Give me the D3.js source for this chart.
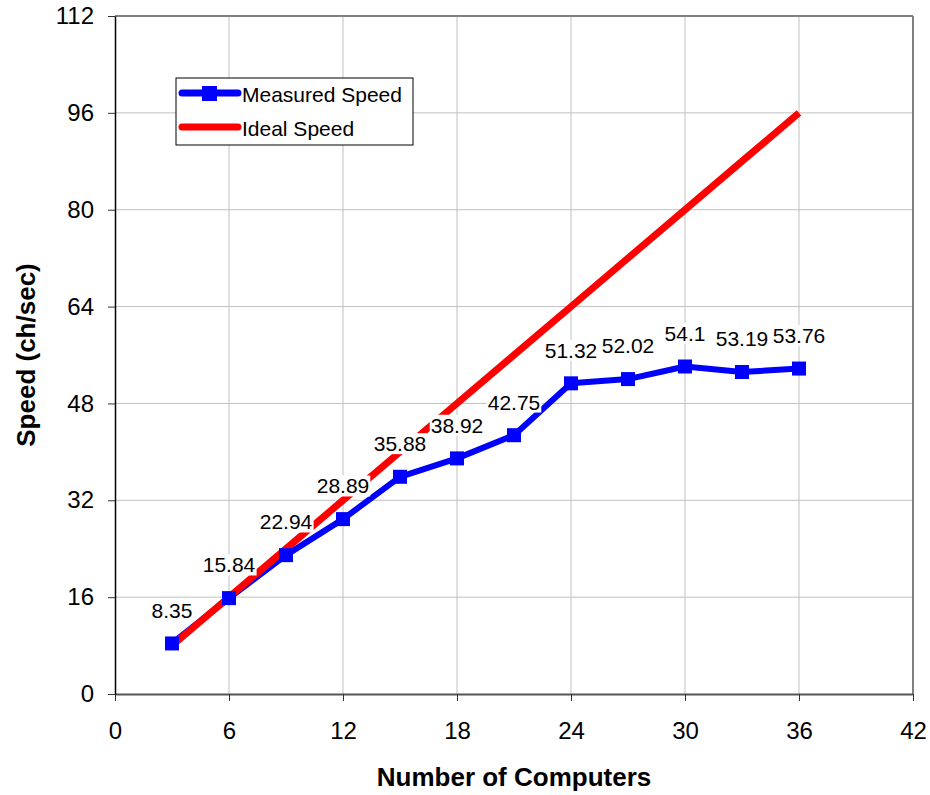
<!DOCTYPE html>
<html>
<head>
<meta charset="utf-8">
<script src="https://cdn.jsdelivr.net/npm/d3@7"></script>
<style>
  html, body { margin: 0; padding: 0; background: #fff; }
  svg { display: block; font-family: "Liberation Sans", Arial, sans-serif; }
</style>
</head>
<body>
<div id="chart"></div>
<script>
const computers = [3, 6, 9, 12, 15, 18, 21, 24, 27, 30, 33, 36];
const measuredSpeed = [8.35, 15.84, 22.94, 28.89, 35.88, 38.92, 42.75, 51.32, 52.02, 54.1, 53.19, 53.76];
const idealSpeed = [8, 16, 24, 32, 40, 48, 56, 64, 72, 80, 88, 96];
const xTicks = [0, 6, 12, 18, 24, 30, 36, 42];
const yTicks = [0, 16, 32, 48, 64, 80, 96, 112];
const seriesNames = ["Measured Speed", "Ideal Speed"];

const width = 930;
const height = 795;
const margin = { top: 16, right: 17, bottom: 101, left: 115 };

const svg = d3.select("#chart").append("svg")
  .attr("width", width)
  .attr("height", height);

const x = d3.scaleLinear().domain([0, 42]).range([margin.left, width - margin.right]);
const y = d3.scaleLinear().domain([0, 112]).range([height - margin.bottom, margin.top]);

// grid
svg.append("g")
  .selectAll("line")
  .data(xTicks.slice(1, -1))
  .join("line")
  .attr("x1", d => x(d)).attr("x2", d => x(d))
  .attr("y1", y(0)).attr("y2", y(112))
  .style("stroke", "#c0c0c0").attr("stroke-width", 1);
svg.append("g")
  .selectAll("line")
  .data(yTicks.slice(1, -1))
  .join("line")
  .attr("x1", x(0)).attr("x2", x(42))
  .attr("y1", d => y(d)).attr("y2", d => y(d))
  .style("stroke", "#c0c0c0").attr("stroke-width", 1);

// frame
svg.append("line").attr("x1", x(0)).attr("x2", x(42)).attr("y1", y(112)).attr("y2", y(112))
  .style("stroke", "#808080").attr("stroke-width", 2);
svg.append("line").attr("x1", x(42)).attr("x2", x(42)).attr("y1", y(0)).attr("y2", y(112))
  .style("stroke", "#808080").attr("stroke-width", 2);

// axes
const xAxis = svg.append("g")
  .attr("transform", `translate(0,${y(0)})`)
  .call(d3.axisBottom(x).tickValues(xTicks).tickSize(7).tickSizeOuter(0).tickPadding(21).tickFormat(d3.format("d")));
xAxis.select(".domain").style("stroke", "#555").attr("stroke-width", 2);
xAxis.selectAll(".tick line").style("stroke", "#333");
xAxis.selectAll("text").attr("font-size", "24px").style("fill", "#000");

const yAxis = svg.append("g")
  .attr("transform", `translate(${x(0)},0)`)
  .call(d3.axisLeft(y).tickValues(yTicks).tickSize(7).tickSizeOuter(0).tickPadding(14).tickFormat(d3.format("d")));
yAxis.select(".domain").style("stroke", "#000").attr("stroke-width", 1.5);
yAxis.selectAll(".tick line").style("stroke", "#333");
yAxis.selectAll("text").attr("font-size", "24px").style("fill", "#000");

// axis titles
svg.append("text")
  .attr("x", (x(0) + x(42)) / 2)
  .attr("y", 786)
  .attr("text-anchor", "middle")
  .attr("font-size", "26px")
  .attr("font-weight", "700")
  .text("Number of Computers");
svg.append("text")
  .attr("transform", `translate(35,${(y(0) + y(112)) / 2}) rotate(-90)`)
  .attr("text-anchor", "middle")
  .attr("font-size", "26px")
  .attr("font-weight", "700")
  .text("Speed (ch/sec)");

const line = d3.line().x(d => x(d[0])).y(d => y(d[1]));
const measured = computers.map((c, i) => [c, measuredSpeed[i]]);
const ideal = computers.map((c, i) => [c, idealSpeed[i]]);

svg.append("path").datum(measured).attr("d", line)
  .attr("fill", "none").style("stroke", "#0000ff").attr("stroke-width", 6).attr("stroke-linejoin", "round");
svg.append("path").datum(ideal).attr("d", line)
  .attr("fill", "none").style("stroke", "#ff0000").attr("stroke-width", 7).attr("stroke-linejoin", "round");

svg.append("g").selectAll("rect")
  .data(measured)
  .join("rect")
  .attr("x", d => x(d[0]) - 7)
  .attr("y", d => y(d[1]) - 7)
  .attr("width", 14).attr("height", 14)
  .style("fill", "#0000ff");

// data labels, white box behind
const labels = svg.append("g").selectAll("g")
  .data(measured)
  .join("g")
  .attr("transform", d => `translate(${x(d[0])},${y(d[1]) - 33})`);
labels.append("rect").attr("class", "bg").style("fill", "#fff");
labels.append("text")
  .attr("text-anchor", "middle")
  .attr("dy", ".35em")
  .attr("font-size", "21px")
  .style("fill", "#000")
  .text(d => String(d[1]));
labels.each(function() {
  const g = d3.select(this);
  const b = g.select("text").node().getBBox();
  g.select("rect.bg").attr("x", b.x - 1).attr("y", b.y + 1).attr("width", b.width + 2).attr("height", b.height - 2);
});

// legend
const legend = svg.append("g").attr("transform", "translate(176,78)");
legend.append("rect").attr("width", 237).attr("height", 67)
  .style("fill", "#fff").style("stroke", "#000").attr("stroke-width", 1);
[["#0000ff", 7, true], ["#ff0000", 7, false]].forEach(([color, w, marker], i) => {
  const ly = 15 + i * 34;
  legend.append("line").attr("x1", 6).attr("x2", 62).attr("y1", ly).attr("y2", ly)
    .style("stroke", color).attr("stroke-width", w).attr("stroke-linecap", "round");
  if (marker) legend.append("rect").attr("x", 26).attr("y", ly - 7).attr("width", 15).attr("height", 15).style("fill", color);
  legend.append("text").attr("x", 66).attr("y", ly + 2).attr("dy", ".35em")
    .attr("font-size", "21px").style("fill", "#000").text(seriesNames[i]);
});
</script>
</body>
</html>
